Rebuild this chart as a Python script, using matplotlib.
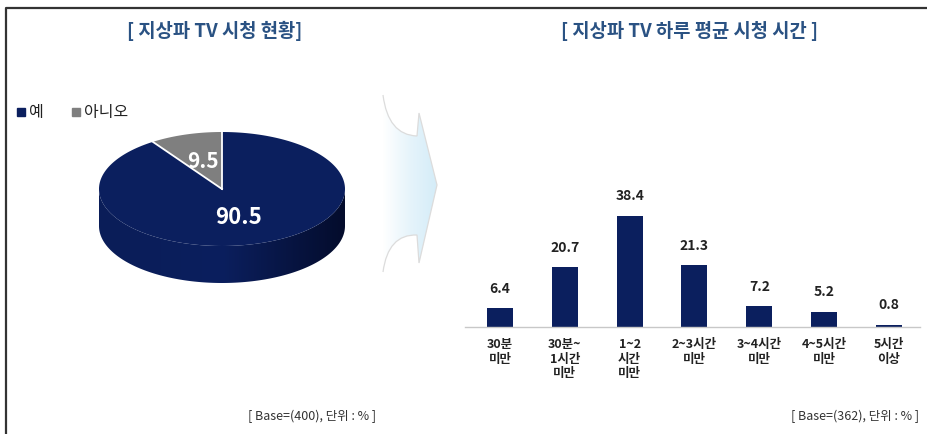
import matplotlib
matplotlib.use("Agg")
import matplotlib.pyplot as plt
from matplotlib.patches import Polygon, Rectangle, PathPatch
from matplotlib.path import Path
from matplotlib.colors import LinearSegmentedColormap
import numpy as np

plt.rcParams['font.family'] = ['Noto Sans CJK KR', 'DejaVu Sans']

# data
pie_labels = ["예", "아니오"]
pie_values = [90.5, 9.5]
bar_labels = ["30분\n미만", "30분~\n1시간\n미만", "1~2\n시간\n미만", "2~3시간\n미만",
              "3~4시간\n미만", "4~5시간\n미만", "5시간\n이상"]
bar_values = [6.4, 20.7, 38.4, 21.3, 7.2, 5.2, 0.8]

pie_title = "[ 지상파 TV 시청 현황]"
bar_title = "[ 지상파 TV 하루 평균 시청 시간 ]"
pie_note = "[ Base=(400), 단위 : % ]"
bar_note = "[ Base=(362), 단위 : % ]"

navy = "#0b1f5e"
gray = "#7f7f7f"
title_color = "#2a5283"

W, H = 927, 434
fig = plt.figure(figsize=(W / 100, H / 100), dpi=100)

# overlay axes in pixel coordinates
ov = fig.add_axes([0, 0, 1, 1])
ov.set_xlim(0, W)
ov.set_ylim(H, 0)
ov.axis("off")

# frame (left and top only)
ov.plot([6.5, 6.5, W], [H, 7.5, 7.5], color="#333333", lw=1.6, solid_capstyle="butt")

# titles
ov.text(215, 31, pie_title, color=title_color, fontsize=13.5, fontweight="bold",
        ha="center", va="center")
ov.text(690, 31, bar_title, color=title_color, fontsize=13.5, fontweight="bold",
        ha="center", va="center")

# legend
leg_x = [17, 72]
for i, (lab, col) in enumerate(zip(pie_labels, [navy, gray])):
    ov.add_patch(Rectangle((leg_x[i], 108), 8, 8, color=col))
    ov.text(leg_x[i] + 12, 112, lab, fontsize=11.5, ha="left", va="center", color="#222222")

# 3D pie
cx, cy, rx, ry, depth = 222, 189, 123, 57, 37

def ell(t, off=0):
    t = np.radians(t)
    return np.column_stack([cx + rx * np.sin(t), cy - ry * np.cos(t) + off])

# side wall (front half) with horizontal shading
ts = np.linspace(90, 270, 160)
side = Polygon(np.vstack([ell(ts), ell(ts[::-1], depth)]), closed=True,
               facecolor="none", edgecolor="none")
ov.add_patch(side)
side_cm = LinearSegmentedColormap.from_list("side", ["#0a1d58", "#0b1f5e", "#040c2c"])
sim = ov.imshow(np.linspace(0, 1, 256).reshape(1, -1), cmap=side_cm, aspect="auto",
                extent=[cx - rx, cx + rx, cy + ry + depth, cy], zorder=1)
sim.set_clip_path(side)

angles = np.concatenate([[0], np.cumsum(pie_values) / np.sum(pie_values) * 360])
colors = [navy, gray]
for i in range(len(pie_values)):
    ts = np.linspace(angles[i], angles[i + 1], 200)
    pts = np.vstack([[cx, cy], ell(ts)])
    ov.add_patch(Polygon(pts, closed=True, facecolor=colors[i], edgecolor="none", zorder=2))
for a in angles[:-1]:
    p = ell(np.array([a]))[0]
    ov.plot([cx, p[0]], [cy, p[1]], color="white", lw=1.3, zorder=3)

ov.text(203, 161, f"{pie_values[1]:.1f}", color="white", fontsize=15, fontweight="bold",
        ha="center", va="center", zorder=4)
ov.text(239, 218, f"{pie_values[0]:.1f}", color="white", fontsize=16, fontweight="bold",
        ha="center", va="center", zorder=4)

# arrow with gradient
verts = [(383, 95), (388, 135), (417, 136), (419, 113), (437, 185), (419, 263),
         (417, 235), (388, 234), (383, 272), (383, 95)]
codes = [Path.MOVETO, Path.CURVE3, Path.CURVE3, Path.LINETO, Path.LINETO, Path.LINETO,
         Path.LINETO, Path.CURVE3, Path.CURVE3, Path.CLOSEPOLY]
arrow = PathPatch(Path(verts, codes), facecolor="none", edgecolor="none")
ov.add_patch(arrow)
cm = LinearSegmentedColormap.from_list("g", ["#ffffff", "#e6f4fb", "#d4ecf8"])
im = ov.imshow(np.linspace(0, 1, 256).reshape(1, -1), extent=[383, 437, 272, 95],
               cmap=cm, aspect="auto", zorder=0.5)
im.set_clip_path(arrow)
outline = Path(verts[:-1], codes[:-1])
ov.add_patch(PathPatch(outline, facecolor="none", edgecolor="#dcdcdc", lw=0.9))
ov.set_xlim(0, W)
ov.set_ylim(H, 0)

# notes
ov.text(312, 416, pie_note, fontsize=9, ha="center", va="center", color="#333333")
ov.text(855, 416, bar_note, fontsize=9, ha="center", va="center", color="#333333")

# bar chart
base_y = 327
ax_h = 140
ax = fig.add_axes([465 / W, (H - base_y) / H, (920 - 465) / W, ax_h / H])
x = np.arange(len(bar_values))
ax.bar(x, bar_values, width=0.40, color=navy)
ax.set_xlim(-0.54, 6.48)
ax.set_ylim(0, 48.4)
ax.patch.set_alpha(0)
for s in ["top", "right", "left"]:
    ax.spines[s].set_visible(False)
ax.spines["bottom"].set_color("#c8c8c8")
ax.spines["bottom"].set_linewidth(1.0)
ax.set_yticks([])
ax.set_xticks(x)
ax.set_xticklabels(bar_labels, fontsize=9, fontweight="bold", color="#222222",
                   linespacing=1.15)
ax.tick_params(axis="x", length=0, pad=8)
for xi, v in zip(x, bar_values):
    ax.annotate(f"{v:.1f}", (xi, v), xytext=(0, 9), textcoords="offset points",
                ha="center", va="bottom", fontsize=10, fontweight="bold", color="#222222")

fig.savefig("out.png", dpi=100)
